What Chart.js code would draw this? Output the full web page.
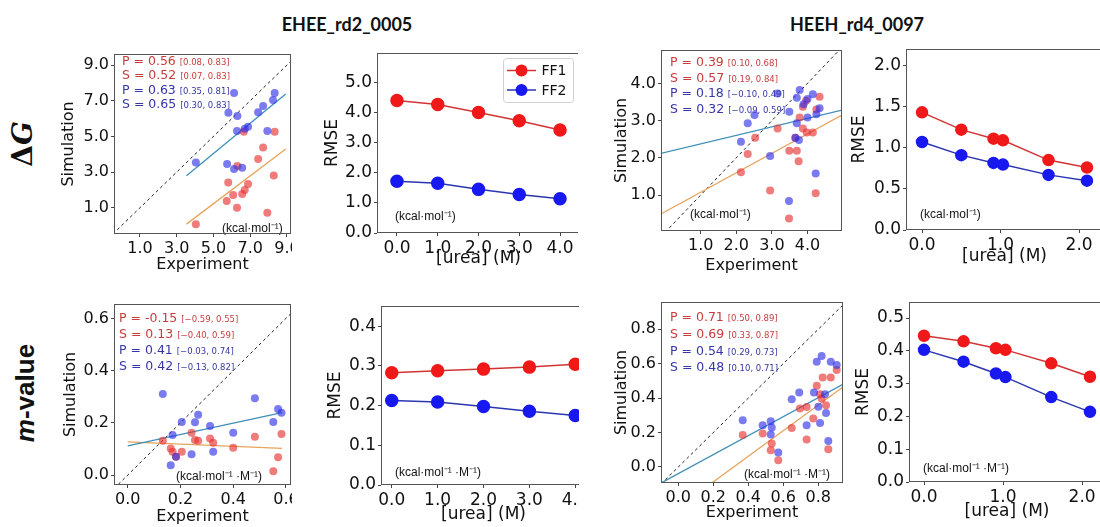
<!DOCTYPE html>
<html>
<head>
<meta charset="utf-8">
<title>EHEE_rd2_0005 / HEEH_rd4_0097</title>
<script src="https://cdn.jsdelivr.net/npm/chart.js@4.4.1/dist/chart.umd.min.js"></script>
<style>
  html, body { margin: 0; padding: 0; background: #fff; }
  body { position: relative; width: 1100px; height: 527px; overflow: hidden; }
  .panel { position: absolute; overflow: hidden; }
  .panel canvas { display: block; }
  .head { position: absolute; width: 220px; text-align: center; color: #111;
          font: bold 18px Lato, "Open Sans", sans-serif; line-height: 24px; }
  .row { position: absolute; text-align: center; color: #111; transform: rotate(-90deg); }
</style>
</head>
<body>
<div class="head" style="left:237px; top:12px">EHEE_rd2_0005</div>
<div class="head" style="left:747px; top:12px">HEEH_rd4_0097</div>
<div class="row" style="left:-17px; top:126px; width:80px; height:36px; font: bold 28px 'DejaVu Serif'; line-height:36px">Δ<i>G</i></div>
<div class="row" style="left:-35px; top:375px; width:120px; height:36px; font: bold 26px 'Liberation Sans'; line-height:36px"><i>m</i>-value</div>

<script>
// ---------- EHEE_rd2_0005, dG (kcal/mol): experiment vs simulation ----------
var eheeDgFF1x = [4.04, 5.72, 5.80, 6.07, 6.28, 6.30, 6.56, 6.65, 6.70, 6.88, 7.43, 7.70, 7.93, 8.28, 8.33];
var eheeDgFF1y = [0.07, 1.37, 2.42, 1.71, 1.00, 3.34, 1.77, 5.26, 1.99, 2.33, 3.73, 4.38, 0.72, 2.81, 5.26];
var eheeDgFF2x = [4.04, 5.74, 5.81, 6.12, 6.12, 6.28, 6.30, 6.56, 6.70, 6.88, 7.43, 7.70, 7.93, 8.24, 8.33];
var eheeDgFF2y = [3.54, 3.45, 6.33, 7.43, 3.17, 5.30, 6.14, 3.24, 5.42, 5.54, 6.35, 6.70, 5.30, 7.04, 7.43];
var eheeDgFitX = [3.53, 8.93];
var eheeDgFitFF1 = [0.08, 4.29];
var eheeDgFitFF2 = [2.79, 7.37];
var eheeDgStats = [["P = 0.56", "[0.08, 0.83]"], ["S = 0.52", "[0.07, 0.83]"],
                   ["P = 0.63", "[0.35, 0.81]"], ["S = 0.65", "[0.30, 0.83]"]];
var eheeDgTicks = [1, 3, 5, 7, 9];

// ---------- HEEH_rd4_0097, dG ----------
var heehDgFF1x = [4.34, 3.96, 3.87, 4.25, 3.78, 3.16, 3.87, 3.98, 4.15, 2.53, 3.66, 3.49, 3.70, 2.32, 3.75, 2.13, 2.95, 4.23, 3.48];
var heehDgFF1y = [3.64, 3.53, 3.37, 3.30, 3.08, 2.79, 2.79, 2.68, 2.68, 2.54, 2.54, 2.19, 2.19, 2.10, 1.91, 1.61, 1.12, 1.05, 0.37];
var heehDgFF2x = [3.16, 3.78, 3.70, 4.15, 4.00, 3.89, 4.34, 3.49, 4.00, 4.25, 2.51, 2.32, 3.70, 2.13, 3.66, 3.76, 2.95, 4.23, 3.48];
var heehDgFF2y = [3.73, 3.82, 3.61, 3.71, 3.58, 3.44, 3.33, 3.24, 3.08, 3.17, 3.15, 2.93, 2.93, 2.43, 2.54, 2.48, 2.05, 1.58, 0.84];
var heehDgFitX = [-0.12, 4.97];
var heehDgFitFF1 = [0.49, 3.15];
var heehDgFitFF2 = [2.12, 3.28];
var heehDgStats = [["P = 0.39", "[0.10, 0.68]"], ["S = 0.57", "[0.19, 0.84]"],
                   ["P = 0.18", "[\u22120.10, 0.49]"], ["S = 0.32", "[\u22120.09, 0.59]"]];
var heehDgTicks = [1, 2, 3, 4];

// ---------- EHEE_rd2_0005, m-value (kcal/mol/M) ----------
var eheeMFF1x = [0.133, 0.163, 0.170, 0.205, 0.242, 0.255, 0.267, 0.312, 0.324, 0.400, 0.482, 0.583, 0.570, 0.552, 0.183];
var eheeMFF1y = [0.131, 0.102, 0.089, 0.089, 0.162, 0.134, 0.131, 0.140, 0.124, 0.105, 0.147, 0.157, 0.068, 0.015, 0.070];
var eheeMFF2x = [0.133, 0.482, 0.570, 0.583, 0.552, 0.267, 0.205, 0.255, 0.312, 0.400, 0.170, 0.324, 0.242, 0.183, 0.163];
var eheeMFF2y = [0.310, 0.294, 0.253, 0.239, 0.203, 0.231, 0.203, 0.202, 0.188, 0.162, 0.153, 0.089, 0.080, 0.070, 0.038];
var eheeMFitX = [0.0, 0.585];
var eheeMFitFF1 = [0.127, 0.102];
var eheeMFitFF2 = [0.112, 0.239];
var eheeMStats = [["P = -0.15", "[\u22120.59, 0.55]"], ["S = 0.13", "[\u22120.40, 0.59]"],
                  ["P = 0.41", "[\u22120.03, 0.74]"], ["S = 0.42", "[\u22120.13, 0.82]"]];
var eheeMTicks = [0, 0.2, 0.4, 0.6];

// ---------- HEEH_rd4_0097, m-value ----------
var heehMFF1x = [0.905, 0.871, 0.825, 0.791, 0.810, 0.819, 0.844, 0.695, 0.733, 0.771, 0.648, 0.368, 0.482, 0.534, 0.528, 0.571, 0.733, 0.857];
var heehMFF1y = [0.563, 0.520, 0.520, 0.472, 0.423, 0.398, 0.359, 0.340, 0.349, 0.282, 0.227, 0.185, 0.194, 0.136, 0.097, 0.039, 0.160, 0.103];
var heehMFF2x = [0.819, 0.791, 0.871, 0.905, 0.691, 0.648, 0.775, 0.838, 0.800, 0.844, 0.810, 0.733, 0.368, 0.482, 0.528, 0.534, 0.528, 0.571, 0.857];
var heehMFF2y = [0.645, 0.611, 0.611, 0.592, 0.433, 0.394, 0.433, 0.423, 0.350, 0.314, 0.256, 0.243, 0.272, 0.243, 0.266, 0.229, 0.189, 0.084, 0.151];
var heehMFit1X = [0.191, 0.943];
var heehMFitFF1 = [-0.093, 0.466];
var heehMFit2X = [-0.099, 0.943];
var heehMFitFF2 = [-0.093, 0.481];
var heehMStats = [["P = 0.71", "[0.50, 0.89]"], ["S = 0.69", "[0.33, 0.87]"],
                  ["P = 0.54", "[0.29, 0.73]"], ["S = 0.48", "[0.10, 0.71]"]];
var heehMTicks = [0, 0.2, 0.4, 0.6, 0.8];

// ---------- RMSE against urea concentration ----------
var eheeUrea = [0, 1, 2, 3, 4];
var eheeRmseDgFF1 = [4.40, 4.27, 4.00, 3.73, 3.42];
var eheeRmseDgFF2 = [1.72, 1.65, 1.45, 1.28, 1.14];
var eheeRmseMFF1 = [0.283, 0.288, 0.292, 0.297, 0.304];
var eheeRmseMFF2 = [0.213, 0.209, 0.198, 0.186, 0.175];

var heehUrea = [0, 0.5, 0.91, 1.03, 1.61, 2.1];
var heehRmseDgFF1 = [1.43, 1.22, 1.11, 1.09, 0.85, 0.76];
var heehRmseDgFF2 = [1.07, 0.91, 0.815, 0.795, 0.67, 0.60];
var heehRmseMFF1 = [0.446, 0.429, 0.408, 0.403, 0.362, 0.321];
var heehRmseMFF2 = [0.403, 0.367, 0.331, 0.320, 0.259, 0.214];

var ureaTicksEhee = [0, 1, 2, 3, 4];
var ureaTicksHeeh = [0, 1, 2];
var rmseDgTicksEhee = [0, 1, 2, 3, 4, 5];
var rmseDgTicksHeeh = [0, 0.5, 1, 1.5, 2];
var rmseMTicksEhee = [0, 0.1, 0.2, 0.3, 0.4];
var rmseMTicksHeeh = [0, 0.1, 0.2, 0.3, 0.4, 0.5];

var seriesNames = ["FF1", "FF2"];
var unitDg = "(kcal\u00b7mol\u207b\u00b9)";
var unitM = "(kcal\u00b7mol\u207b\u00b9 \u00b7M\u207b\u00b9)";

// canvas margins around each plot box
var ML = 90, MT = 16, MR = 32, MB = 56;
var RED_PT = 'rgba(232, 48, 48, 0.64)';
var BLUE_PT = 'rgba(48, 48, 232, 0.64)';
var RED_TXT = '#c83c3c', BLUE_TXT = '#3636a6';

function xy(xs, ys) {
  return xs.map(function (x, i) { return {x: x, y: ys[i]}; });
}

function scatterSets(s) {
  var lo = Math.min(s.xr[0], s.yr[0]), hi = Math.max(s.xr[1], s.yr[1]);
  return [
    {data: xy(s.ff2x, s.ff2y), backgroundColor: BLUE_PT, borderWidth: 0, pointRadius: 4, clip: 0},
    {data: xy(s.ff1x, s.ff1y), backgroundColor: RED_PT, borderWidth: 0, pointRadius: 4, clip: 0},
    {data: xy(s.fit2x, s.fit2y), showLine: true, borderColor: '#3f8fb9', borderWidth: 1.3, pointRadius: 0, clip: 0},
    {data: xy(s.fit1x, s.fit1y), showLine: true, borderColor: '#e6a45a', borderWidth: 1.3, pointRadius: 0, clip: 0},
    {data: [{x: lo, y: lo}, {x: hi, y: hi}], showLine: true, borderColor: '#222', borderWidth: 1,
     borderDash: [3, 3], pointRadius: 0, clip: 0}
  ];
}

function rmseSets(x, f1, f2, r) {
  return [
    {data: xy(x, f1), showLine: true, borderColor: '#d23434', borderWidth: 1.5, backgroundColor: '#f01818',
     pointBorderColor: '#f01818', pointRadius: r, clip: 0},
    {data: xy(x, f2), showLine: true, borderColor: '#2a36b0', borderWidth: 1.5, backgroundColor: '#1818f0',
     pointBorderColor: '#1818f0', pointRadius: r, clip: 0}
  ];
}

function axis(range, ticks, title, tickSize, titleSize, pad, fixed, vertical) {
  return {
    type: 'linear', min: range[0], max: range[1],
    afterBuildTicks: function (a) { a.ticks = ticks.map(function (v) { return {value: v}; }); },
    afterFit: function (a) { if (vertical) a.width = fixed; else a.height = fixed; },
    grid: {drawOnChartArea: false, drawTicks: true, tickLength: 3, color: '#444'},
    border: {display: false},
    ticks: {font: {family: 'DejaVu Sans', size: tickSize}, color: '#111', padding: 2,
            maxRotation: 0, autoSkip: false, callback: function (v) { return v.toFixed(1); }},
    title: {display: true, text: title, color: '#111', padding: pad,
            font: {family: 'DejaVu Sans', size: titleSize}}
  };
}

// stats text, unit label, legend and the box frame
function deco(p) {
  return {
    id: 'deco',
    afterDatasetsDraw: function (chart) {
      var c = chart.ctx, a = chart.chartArea;
      c.save();
      c.textAlign = 'left';
      c.textBaseline = 'alphabetic';
      if (p.stats) {
        p.stats.forEach(function (s, i) {
          var x = a.left + p.statPos[0];
          var y = a.top + p.statPos[1] + i * p.statPos[2] + 4.5;
          c.fillStyle = i < 2 ? RED_TXT : BLUE_TXT;
          c.font = '12.5px "DejaVu Sans"';
          c.fillText(s[0], x, y);
          var w = c.measureText(s[0]).width;
          c.font = '8.5px "DejaVu Sans"';
          c.fillText(s[1], x + w + 4, y);
        });
      }
      c.fillStyle = '#111';
      c.font = '12px "Liberation Sans"';
      c.textBaseline = 'middle';
      c.fillText(p.unit, a.left + p.unitPos[0], a.bottom + p.unitPos[1]);

      if (p.legend) {
        var lx = a.right - 77, ly = a.top + 5, lw = 70, lh = 44;
        c.fillStyle = 'rgba(255,255,255,0.85)';
        c.strokeStyle = '#d0d0d0';
        c.lineWidth = 1;
        c.beginPath();
        c.roundRect(lx + 0.5, ly + 0.5, lw, lh, 3);
        c.fill(); c.stroke();
        var ds = chart.data.datasets;
        seriesNames.forEach(function (name, i) {
          var y = ly + 12.5 + i * 19.5;
          c.strokeStyle = ds[i].borderColor;
          c.lineWidth = 1.5;
          c.beginPath(); c.moveTo(lx + 4, y); c.lineTo(lx + 33, y); c.stroke();
          c.fillStyle = ds[i].backgroundColor;
          c.beginPath(); c.arc(lx + 18.5, y, 6, 0, Math.PI * 2); c.fill();
          c.fillStyle = '#111';
          c.font = '14px "DejaVu Sans"';
          c.fillText(name, lx + 38.5, y + 1);
        });
      }

      c.strokeStyle = '#555';
      c.lineWidth = 1;
      c.strokeRect(a.left + 0.5, a.top + 0.5, a.right - a.left - 1, a.bottom - a.top - 1);
      c.restore();
    }
  };
}

function makePanel(p) {
  var w = p.box[2] - p.box[0] + ML + MR;
  var h = p.box[3] - p.box[1] + MT + MB;
  var left = p.box[0] - ML, top = p.box[1] - MT;
  var wrap = document.createElement('div');
  wrap.className = 'panel';
  wrap.style.left = left + 'px';
  wrap.style.top = top + 'px';
  wrap.style.width = (p.clip ? p.clip - left : w) + 'px';
  wrap.style.height = h + 'px';
  var cv = document.createElement('canvas');
  cv.width = w; cv.height = h;
  cv.style.width = w + 'px'; cv.style.height = h + 'px';
  wrap.appendChild(cv);
  document.body.appendChild(wrap);

  var lhX = p.titleSize * 1.2;
  var padY = {top: (p.yTitleX - left) - lhX / 2, bottom: 0};
  var padX = {top: 0, bottom: h - (p.xTitleY - top) - lhX / 2};

  new Chart(cv, {
    type: 'scatter',
    data: {datasets: p.datasets},
    options: {
      responsive: false,
      animation: false,
      events: [],
      layout: {padding: {left: 0, top: MT, right: MR, bottom: 0}},
      plugins: {legend: {display: false}, tooltip: {enabled: false}},
      scales: {
        x: axis(p.xr, p.xTicks, p.xTitle, p.tickSize, p.titleSize, padX, MB, false),
        y: axis(p.yr, p.yTicks, p.yTitle, p.tickSize, p.titleSize, padY, ML, true)
      }
    },
    plugins: [deco(p)]
  });
}

// ---------- the eight panels ----------
var p1 = {box: [114, 54, 291, 234], clip: 292, xr: [-0.415, 9.218], yr: [-0.474, 9.617],
  xTicks: eheeDgTicks, yTicks: eheeDgTicks, xTitle: 'Experiment', yTitle: 'Simulation',
  tickSize: 16, titleSize: 16, yTitleX: 69, xTitleY: 265,
  stats: eheeDgStats, statPos: [8, 6.7, 14.2], unit: unitDg, unitPos: [108, -5.5]};
p1.datasets = scatterSets({ff1x: eheeDgFF1x, ff1y: eheeDgFF1y, ff2x: eheeDgFF2x, ff2y: eheeDgFF2y,
  fit1x: eheeDgFitX, fit1y: eheeDgFitFF1, fit2x: eheeDgFitX, fit2y: eheeDgFitFF2, xr: p1.xr, yr: p1.yr});

var p2 = {box: [377, 53, 580, 233], clip: 578, xr: [-0.49, 4.49], yr: [0, 5.98],
  xTicks: ureaTicksEhee, yTicks: rmseDgTicksEhee, xTitle: '[urea] (M)', yTitle: 'RMSE',
  tickSize: 17, titleSize: 17, yTitleX: 333, xTitleY: 259,
  unit: unitDg, unitPos: [18, -16.5], legend: true,
  datasets: rmseSets(eheeUrea, eheeRmseDgFF1, eheeRmseDgFF2, 6)};

var p3 = {box: [661, 50, 842, 231], xr: [-0.117, 4.97], yr: [0.033, 4.896],
  xTicks: heehDgTicks, yTicks: heehDgTicks, xTitle: 'Experiment', yTitle: 'Simulation',
  tickSize: 16, titleSize: 16, yTitleX: 622, xTitleY: 266,
  stats: heehDgStats, statPos: [9, 11.7, 15.5], unit: unitDg, unitPos: [29, -16]};
p3.datasets = scatterSets({ff1x: heehDgFF1x, ff1y: heehDgFF1y, ff2x: heehDgFF2x, ff2y: heehDgFF2y,
  fit1x: heehDgFitX, fit1y: heehDgFitFF1, fit2x: heehDgFitX, fit2y: heehDgFitFF2, xr: p3.xr, yr: p3.yr});

var p4 = {box: [906, 49, 1103, 230], xr: [-0.204, 2.304], yr: [0, 2.2],
  xTicks: ureaTicksHeeh, yTicks: rmseDgTicksHeeh, xTitle: '[urea] (M)', yTitle: 'RMSE',
  tickSize: 17, titleSize: 17, yTitleX: 860, xTitleY: 257,
  unit: unitDg, unitPos: [14, -15],
  datasets: rmseSets(heehUrea, heehRmseDgFF1, heehRmseDgFF2, 5.5)};

var p5 = {box: [114, 304, 291, 485], clip: 292, xr: [-0.052, 0.619], yr: [-0.038, 0.655],
  xTicks: eheeMTicks, yTicks: eheeMTicks, xTitle: 'Experiment', yTitle: 'Simulation',
  tickSize: 16, titleSize: 16, yTitleX: 71, xTitleY: 517,
  stats: eheeMStats, statPos: [5, 13.3, 16], unit: unitM, unitPos: [62, -8.3]};
p5.datasets = scatterSets({ff1x: eheeMFF1x, ff1y: eheeMFF1y, ff2x: eheeMFF2x, ff2y: eheeMFF2y,
  fit1x: eheeMFitX, fit1y: eheeMFitFF1, fit2x: eheeMFitX, fit2y: eheeMFitFF2, xr: p5.xr, yr: p5.yr});

var p6 = {box: [381, 306, 586, 485], clip: 579, xr: [-0.234, 4.234], yr: [0, 0.451],
  xTicks: ureaTicksEhee, yTicks: rmseMTicksEhee, xTitle: '[urea] (M)', yTitle: 'RMSE',
  tickSize: 17, titleSize: 17, yTitleX: 336, xTitleY: 515,
  unit: unitM, unitPos: [14, -12.5],
  datasets: rmseSets(eheeUrea, eheeRmseMFF1, eheeRmseMFF2, 6)};

var p7 = {box: [661, 302, 843, 483], xr: [-0.099, 0.941], yr: [-0.093, 0.958],
  xTicks: heehMTicks, yTicks: heehMTicks, xTitle: 'Experiment', yTitle: 'Simulation',
  tickSize: 16, titleSize: 16, yTitleX: 622, xTitleY: 513,
  stats: heehMStats, statPos: [9, 14.7, 16.7], unit: unitM, unitPos: [83, -8]};
p7.datasets = scatterSets({ff1x: heehMFF1x, ff1y: heehMFF1y, ff2x: heehMFF2x, ff2y: heehMFF2y,
  fit1x: heehMFit1X, fit1y: heehMFitFF1, fit2x: heehMFit2X, fit2y: heehMFitFF2, xr: p7.xr, yr: p7.yr});

var p8 = {box: [909, 302, 1105, 482], xr: [-0.19, 2.29], yr: [0, 0.549],
  xTicks: ureaTicksHeeh, yTicks: rmseMTicksHeeh, xTitle: '[urea] (M)', yTitle: 'RMSE',
  tickSize: 17, titleSize: 17, yTitleX: 864, xTitleY: 512,
  unit: unitM, unitPos: [14, -13.7],
  datasets: rmseSets(heehUrea, heehRmseMFF1, heehRmseMFF2, 5.5)};

[p1, p2, p3, p4, p5, p6, p7, p8].forEach(makePanel);
</script>
</body>
</html>
